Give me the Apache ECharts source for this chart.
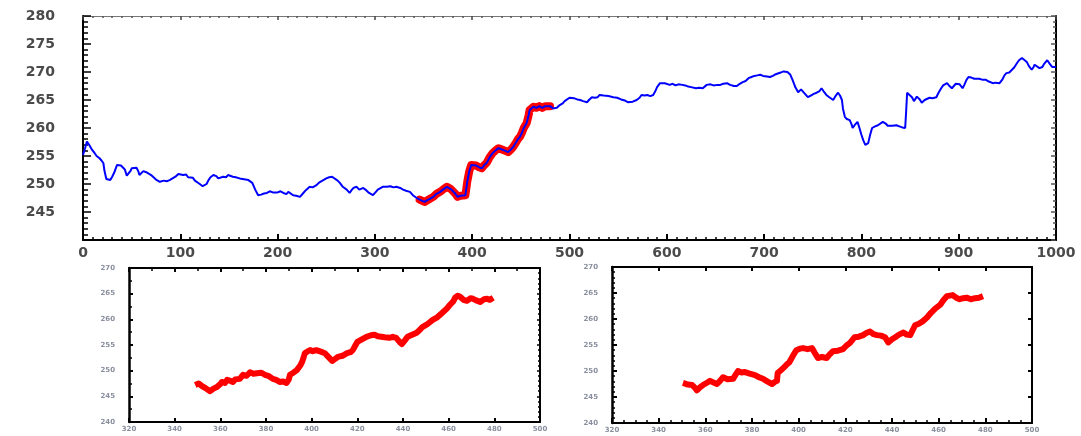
<!DOCTYPE html>
<html>
<head>
<meta charset="utf-8">
<script src="https://cdn.jsdelivr.net/npm/echarts@6/dist/echarts.min.js"></script>
<style>
html,body{margin:0;padding:0;background:#fff;}
#chart{width:1081px;height:436px;}
</style>
</head>
<body>
<div id="chart"></div>
<script>
// ---- Data ----
const mainXTicks = ['0','100','200','300','400','500','600','700','800','900','1000'];
const mainYTicks = ['245','250','255','260','265','270','275','280'];
const subXTicks = ['320','340','360','380','400','420','440','460','480','500'];
const subYTicks = ['240','245','250','255','260','265','270'];

const highlightRange = [345, 482];

const bluePath = [
[0,255.2],[2,256.3],[4,257.6],[5,257.5],[7,256.8],[9,256.2],[12,255.5],[14,255.0],[17,254.6],[19,254.2],[21,253.7],[22,252.4],[24,250.9],[26,250.8],[28,250.7],[30,251.3],[32,252.0],[35,253.4],[37,253.1],[39,253.3],[41,253.2],[43,252.6],[45,251.5],[47,251.3],[49,252.4],[50,252.8],[52,252.5],[55,252.9],[57,252.2],[58,251.6],[60,251.9],[62,252.3],[65,252.1],[67,251.8],[70,251.6],[72,251.3],[75,250.8],[79,250.4],[83,250.6],[86,250.5],[89,250.7],[92,251.0],[95,251.3],[98,251.8],[100,251.9],[103,251.6],[106,251.7],[108,251.2],[110,251.4],[113,251.1],[115,250.6],[117,250.4],[120,250.0],[123,249.6],[125,249.3],[127,250.0],[129,250.7],[131,251.2],[134,251.6],[137,251.4],[139,251.0],[141,251.0],[144,251.3],[147,251.2],[149,251.6],[151,251.6],[154,251.3],[157,251.2],[159,251.0],[161,251.0],[164,250.9],[167,250.8],[170,250.7],[172,250.7],[174,250.2],[175,249.8],[177,249.0],[180,248.0],[183,248.1],[186,248.3],[189,248.4],[192,248.7],[195,248.5],[197,248.8],[200,248.5],[203,248.7],[206,248.4],[209,248.2],[211,248.6],[213,248.4],[216,248.0],[219,247.9],[221,247.7],[223,247.7],[226,248.3],[229,248.9],[233,249.5],[236,249.4],[240,249.8],[243,250.3],[247,250.7],[250,251.0],[253,251.2],[256,251.3],[258,251.2],[261,250.7],[264,250.2],[267,249.5],[269,249.4],[271,249.0],[274,248.4],[276,248.9],[278,249.3],[281,249.5],[284,249.0],[286,249.2],[288,249.3],[291,248.9],[294,248.4],[296,248.2],[298,248.0],[301,248.6],[303,249.0],[305,249.3],[308,249.5],[312,249.5],[316,249.6],[319,249.4],[322,249.5],[326,249.3],[329,249.0],[332,248.8],[336,248.6],[339,248.0],[341,247.7],[343,247.5],[346,247.2],[348,247.0],[351,246.8],[354,247.1],[357,247.4],[360,247.7],[363,248.2],[365,248.4],[367,248.6],[370,249.0],[372,249.3],[374,249.5],[376,249.4],[378,249.1],[380,248.9],[382,248.4],[385,247.7],[388,247.9],[390,247.8],[393,248.0],[395,250.5],[397,252.3],[399,253.4],[401,253.7],[404,253.3],[407,253.0],[410,252.8],[412,253.3],[415,253.8],[418,254.8],[421,255.5],[424,256.0],[427,256.4],[430,256.2],[433,256.0],[435,255.8],[437,255.7],[440,256.2],[442,256.6],[445,257.4],[447,258.0],[449,258.4],[451,259.1],[453,260.0],[456,260.9],[458,262.3],[459,263.2],[461,263.4],[463,263.8],[466,263.6],[469,263.9],[472,263.6],[475,263.9],[477,263.8],[480,263.9],[483,263.5],[485,263.2],[487,263.6],[490,264.1],[493,264.4],[495,264.8],[497,265.0],[500,265.4],[502,265.5],[505,265.3],[508,265.1],[511,265.0],[514,264.8],[518,264.6],[520,265.0],[523,265.5],[526,265.4],[529,265.5],[531,265.9],[535,265.8],[540,265.7],[545,265.5],[549,265.4],[553,265.1],[557,264.9],[560,264.6],[562,264.5],[565,264.7],[567,265.0],[569,265.0],[572,265.4],[574,265.9],[577,265.8],[580,265.9],[583,265.7],[586,265.9],[588,266.5],[590,267.3],[593,268.0],[595,268.2],[598,268.0],[600,267.8],[603,267.7],[606,267.9],[609,267.6],[612,267.8],[616,267.7],[619,267.6],[622,267.4],[625,267.3],[627,267.3],[630,267.1],[633,267.2],[637,267.1],[639,267.4],[641,267.7],[645,267.8],[648,267.6],[652,267.7],[655,267.7],[658,267.9],[662,268.0],[665,267.7],[669,267.5],[672,267.5],[675,267.9],[678,268.2],[681,268.4],[684,268.9],[687,269.1],[690,269.3],[693,269.4],[696,269.5],[699,269.3],[703,269.2],[706,269.1],[709,269.3],[712,269.6],[714,269.8],[717,269.9],[720,270.1],[722,270.2],[724,270.0],[727,269.5],[729,268.7],[731,267.8],[732,267.3],[735,266.4],[738,266.9],[740,266.8],[742,266.1],[745,265.5],[748,265.8],[751,266.1],[754,266.3],[757,266.6],[759,267.1],[761,266.6],[764,265.9],[767,265.5],[771,265.0],[773,265.6],[776,266.3],[778,265.8],[780,265.0],[781,263.5],[783,262.0],[785,261.6],[788,261.4],[790,260.6],[791,260.0],[793,260.5],[796,261.1],[798,260.0],[800,258.8],[802,257.8],[804,257.0],[807,257.3],[809,258.8],[811,260.0],[814,260.3],[817,260.5],[819,260.7],[822,261.1],[825,260.8],[827,260.4],[829,260.2],[832,260.4],[834,260.6],[836,260.5],[839,260.3],[842,260.1],[845,260.0],[846,263.0],[847,266.3],[849,266.0],[852,265.5],[854,264.8],[855,264.5],[857,265.6],[858,265.9],[860,265.1],[862,264.5],[865,265.0],[867,265.3],[870,265.4],[873,265.3],[877,265.5],[879,266.2],[882,267.1],[884,267.6],[886,267.9],[888,268.0],[890,267.6],[893,267.1],[895,267.5],[897,267.9],[899,268.2],[901,267.8],[904,267.1],[906,267.8],[908,268.6],[910,269.1],[913,269.0],[916,268.8],[918,268.9],[921,268.8],[925,268.6],[928,268.6],[931,268.3],[935,268.0],[938,268.1],[942,268.0],[945,268.7],[947,269.4],[949,269.8],[952,269.9],[954,270.0],[957,270.8],[960,271.6],[962,272.1],[965,272.5],[967,272.3],[970,271.8],[972,271.1],[975,270.4],[977,270.9],[978,271.3],[980,271.0],[983,270.7],[986,270.9],[988,271.5],[991,272.1],[993,271.6],[994,271.3],[996,270.9],[997,270.7],[1000,270.9]
];

const leftSegment = [
[349,247.2],[350.5,247.5],[352,247.0],[353.5,246.6],[355.5,246.0],[357,246.5],[358.5,246.8],[360,247.4],[360.7,247.8],[362,247.6],[363,248.2],[364.5,248.0],[365.5,247.8],[366.5,248.3],[367.3,248.6],[368.5,248.4],[370,249.2],[371.5,249.0],[373,249.7],[374.5,249.4],[376,249.5],[378,249.6],[379.5,249.2],[381,249.0],[383,248.4],[384.5,248.2],[386,247.8],[387.5,247.9],[389,247.6],[390,248.3],[390.5,249.2],[392,249.6],[393.5,250.1],[395,251.0],[395.8,251.7],[396.5,252.6],[397,253.4],[398,253.7],[399.3,254.0],[400.5,253.8],[402,254.0],[404,253.7],[405.8,253.4],[407.5,252.6],[409,251.9],[410.3,252.3],[411.5,252.7],[413.5,252.9],[415.5,253.4],[417,253.6],[418,254.0],[419,254.8],[420,255.6],[422,256.1],[424,256.6],[426,256.9],[427.5,257.0],[429,256.7],[430.5,256.6],[432,256.5],[434,256.4],[435.5,256.6],[437,256.4],[438.5,255.6],[439.5,255.2],[441,256.0],[442,256.6],[444,257.0],[446,257.4],[447.5,258.0],[448.5,258.5],[450.5,259.0],[453,259.9],[455,260.4],[457,261.2],[459,262.0],[460.5,262.8],[462,263.5],[462.8,264.2],[464,264.6],[465,264.4],[466.5,263.8],[468,263.6],[469.5,264.1],[470.7,264.0],[472,263.7],[473.8,263.4],[475.5,263.9],[476.8,264.0],[478,263.8],[479.5,264.2]
];

const rightSegment = [
[350.4,247.7],[352.5,247.4],[354.3,247.3],[355.5,246.8],[356.4,246.3],[357.8,246.9],[359,247.3],[360.5,247.7],[362,248.1],[363.5,247.8],[365,247.5],[366.3,248.1],[367.6,248.8],[369.5,248.4],[371.9,248.5],[373,249.3],[374,250.0],[375.5,249.7],[377,249.8],[379,249.5],[381.3,249.2],[383,248.8],[384.7,248.5],[386.5,248.0],[388.6,247.5],[389.8,247.9],[390.7,248.1],[391,249.6],[392.5,250.2],[394,250.8],[395,251.3],[396,251.7],[397.5,252.9],[399,254.0],[400.5,254.3],[401.9,254.4],[403.8,254.2],[405.7,254.4],[407,253.4],[408.3,252.5],[410,252.7],[412,252.5],[413.3,253.2],[414.7,253.8],[416.8,253.9],[419,254.2],[420.5,254.9],[422,255.4],[424,256.5],[425.8,256.6],[427.6,256.9],[429,257.3],[430.6,257.6],[432,257.1],[433.6,256.9],[435.3,256.8],[437,256.5],[438.4,255.5],[440,256.1],[441.4,256.5],[443,257.0],[444.9,257.4],[446.3,257.0],[447.8,256.9],[449.9,258.8],[451.5,259.1],[453.3,259.6],[455,260.3],[456.7,261.2],[458.5,262.0],[460.6,262.7],[462,263.6],[463.6,264.4],[466,264.6],[467.5,264.1],[469,263.8],[470.5,264.0],[472,264.1],[473.8,263.8],[475.6,264.0],[477.3,264.1],[479,264.4]
];

// ---- Chart ----
const chart = echarts.init(document.getElementById('chart'), null, {renderer: 'canvas'});

const FONT = 'DejaVu Sans';
const mainLabel = {show: true, fontFamily: FONT, fontWeight: 'bold', fontSize: 14, color: '#4a4a4a'};
const subLabel = {show: true, fontFamily: FONT, fontWeight: 'bold', fontSize: 7, color: '#8a8f9e'};

function frameAxis(extra) {
  return Object.assign({
    type: 'value',
    splitLine: {show: false},
    axisLabel: {show: false}
  }, extra);
}

const redMain = bluePath.filter(p => p[0] >= highlightRange[0] && p[0] <= highlightRange[1]);

const option = {
  backgroundColor: '#ffffff',
  animation: false,
  grid: [
    {left: 83, right: 25, top: 16, bottom: 196},
    {left: 129, right: 541, top: 268, bottom: 14},
    {left: 612, right: 49, top: 267, bottom: 13}
  ],
  xAxis: [
    frameAxis({gridIndex: 0, position: 'bottom', min: 0, max: 1000, interval: 100,
      axisLine: {show: true, onZero: false, lineStyle: {color: '#000', width: 2}},
      axisTick: {show: true, inside: true, length: 6, lineStyle: {color: '#000', width: 2}},
      minorTick: {show: true, splitNumber: 10, length: 3, lineStyle: {color: '#000', width: 1.5}},
      axisLabel: Object.assign({}, mainLabel, {margin: 6,
        formatter: v => mainXTicks.includes(String(v)) ? String(v) : ''})
    }),
    frameAxis({gridIndex: 0, position: 'top', min: 0, max: 1000, interval: 100,
      axisLine: {show: true, onZero: false, lineStyle: {color: '#777', width: 1}},
      axisTick: {show: true, inside: true, length: 4, lineStyle: {color: '#444', width: 1.5}},
      minorTick: {show: true, splitNumber: 10, length: 2, lineStyle: {color: '#555', width: 1.5}}
    }),
    frameAxis({gridIndex: 1, position: 'bottom', min: 320, max: 500, interval: 20,
      axisLine: {show: true, onZero: false, lineStyle: {color: '#000', width: 2}},
      axisTick: {show: true, inside: true, length: 4, lineStyle: {color: '#000', width: 2}},
      axisLabel: Object.assign({}, subLabel, {margin: 4,
        formatter: v => subXTicks.includes(String(v)) ? String(v) : ''})
    }),
    frameAxis({gridIndex: 1, position: 'top', min: 320, max: 500, interval: 20,
      axisLine: {show: true, onZero: false, lineStyle: {color: '#000', width: 2}},
      axisTick: {show: true, inside: true, length: 4, lineStyle: {color: '#000', width: 2}},
      minorTick: {show: true, splitNumber: 2, length: 3, lineStyle: {color: '#000', width: 1.5}}
    }),
    frameAxis({gridIndex: 2, position: 'bottom', min: 320, max: 500, interval: 20,
      axisLine: {show: true, onZero: false, lineStyle: {color: '#000', width: 2}},
      axisTick: {show: true, inside: true, length: 5, lineStyle: {color: '#000', width: 2}},
      minorTick: {show: true, splitNumber: 4, length: 3, lineStyle: {color: '#000', width: 1.5}},
      axisLabel: Object.assign({}, subLabel, {margin: 4,
        formatter: v => subXTicks.includes(String(v)) ? String(v) : ''})
    }),
    frameAxis({gridIndex: 2, position: 'top', min: 320, max: 500, interval: 20,
      axisLine: {show: true, onZero: false, lineStyle: {color: '#000', width: 2}},
      axisTick: {show: true, inside: true, length: 4, lineStyle: {color: '#000', width: 2}}
    })
  ],
  yAxis: [
    frameAxis({gridIndex: 0, position: 'left', min: 240, max: 280, interval: 5,
      axisLine: {show: true, onZero: false, lineStyle: {color: '#000', width: 2}},
      axisTick: {show: true, inside: true, length: 8, lineStyle: {color: '#000', width: 1.5}},
      minorTick: {show: true, splitNumber: 5, length: 5, lineStyle: {color: '#000', width: 1.5}},
      axisLabel: Object.assign({}, mainLabel, {margin: 28,
        formatter: v => mainYTicks.includes(String(v)) ? String(v) : ''})
    }),
    frameAxis({gridIndex: 0, position: 'right', min: 240, max: 280, interval: 5,
      axisLine: {show: true, onZero: false, lineStyle: {color: '#000', width: 2}},
      axisTick: {show: true, inside: true, length: 5, lineStyle: {color: '#555', width: 1.5}},
      minorTick: {show: true, splitNumber: 5, length: 3, lineStyle: {color: '#555', width: 1.5}}
    }),
    frameAxis({gridIndex: 1, position: 'left', min: 240, max: 270, interval: 5,
      axisLine: {show: true, onZero: false, lineStyle: {color: '#000', width: 2.5}},
      axisTick: {show: true, inside: true, length: 4, lineStyle: {color: '#000', width: 2}},
      minorTick: {show: true, splitNumber: 2, length: 3, lineStyle: {color: '#000', width: 1.5}},
      axisLabel: Object.assign({}, subLabel, {margin: 14,
        formatter: v => subYTicks.includes(String(v)) ? String(v) : ''})
    }),
    frameAxis({gridIndex: 1, position: 'right', min: 240, max: 270, interval: 5,
      axisLine: {show: true, onZero: false, lineStyle: {color: '#000', width: 2}},
      axisTick: {show: true, inside: true, length: 3, lineStyle: {color: '#000', width: 1.5}},
      minorTick: {show: true, splitNumber: 5, length: 2, lineStyle: {color: '#000', width: 1.5}}
    }),
    frameAxis({gridIndex: 2, position: 'left', min: 240, max: 270, interval: 5,
      axisLine: {show: true, onZero: false, lineStyle: {color: '#000', width: 2.5}},
      axisTick: {show: true, inside: true, length: 5, lineStyle: {color: '#000', width: 2}},
      minorTick: {show: true, splitNumber: 5, length: 3, lineStyle: {color: '#000', width: 1.5}},
      axisLabel: Object.assign({}, subLabel, {margin: 14,
        formatter: v => subYTicks.includes(String(v)) ? String(v) : ''})
    }),
    frameAxis({gridIndex: 2, position: 'right', min: 240, max: 270, interval: 5,
      axisLine: {show: true, onZero: false, lineStyle: {color: '#000', width: 2}},
      axisTick: {show: true, inside: true, length: 4, lineStyle: {color: '#000', width: 2}}
    })
  ],
  series: [
    {type: 'line', xAxisIndex: 0, yAxisIndex: 0, data: redMain, showSymbol: false, z: 2,
      lineStyle: {color: '#ff0000', width: 8, join: 'round', cap: 'round'}},
    {type: 'line', xAxisIndex: 0, yAxisIndex: 0, data: bluePath, showSymbol: false, z: 3,
      lineStyle: {color: '#0000ff', width: 2}},
    {type: 'line', xAxisIndex: 2, yAxisIndex: 2, data: leftSegment, showSymbol: false, z: 3,
      lineStyle: {color: '#ff0000', width: 6, join: 'round'}},
    {type: 'line', xAxisIndex: 4, yAxisIndex: 4, data: rightSegment, showSymbol: false, z: 3,
      lineStyle: {color: '#ff0000', width: 6, join: 'round'}}
  ]
};

chart.setOption(option);
</script>
</body>
</html>
